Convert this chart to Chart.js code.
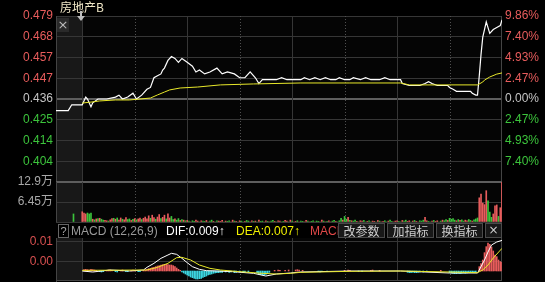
<!DOCTYPE html>
<html><head><meta charset="utf-8">
<script src="https://cdn.jsdelivr.net/npm/chart.js@4.4.1/dist/chart.umd.min.js"></script>
<style>
html,body{margin:0;padding:0;background:#000;overflow:hidden;}
#root{position:relative;width:545px;height:282px;overflow:hidden;background:#000;font-family:'Liberation Sans','Noto Sans CJK SC',sans-serif;}
.pane{position:absolute;left:0;width:545px;}
.t{position:absolute;white-space:nowrap;font-size:12px;line-height:14px;z-index:5;}
.btn{position:absolute;top:223px;height:13px;border:1px solid #4a4a4a;background:#181818;color:#cfcfcf;font-family:'Noto Sans CJK SC',sans-serif;font-size:12px;line-height:13px;text-align:center;z-index:6;}
</style></head><body>
<div id="root">
  <div class="pane" style="top:0;height:194px"><canvas id="cPrice"></canvas></div>
  <div class="pane" style="top:170px;height:64px"><canvas id="cVol"></canvas></div>
  <div class="pane" style="top:222px;height:70px"><canvas id="cMacd"></canvas></div>

  <div class="t" style="left:60px;top:0px;color:#efe6c6;font-family:'Noto Sans CJK SC',sans-serif;" id="title"></div>
  <div class="t" style="left:57px;top:18px;width:12px;height:14px;background:#2a2a2a;color:#bdbdbd;text-align:center;font-size:13px;line-height:14px;font-family:'DejaVu Sans',sans-serif;">×</div>
  <div style="position:absolute;left:80px;top:11px;width:2px;height:5px;background:#bdbdbd;z-index:5"></div>
  <div style="position:absolute;left:77px;top:16px;width:0;height:0;border-left:4px solid transparent;border-right:4px solid transparent;border-top:5px solid #bdbdbd;z-index:5"></div>

  <div class="t" style="left:58px;top:224px;width:9px;height:12px;border:1px solid #666;color:#aaa;text-align:center;font-size:11px;line-height:12px;">?</div>
  <div class="t" style="left:71px;top:224px;color:#9a9a9a;" id="macdName"></div>
  <div class="t" style="left:166px;top:224px;color:#ffffff;" id="difTxt"></div>
  <div class="t" style="left:236px;top:224px;color:#f0f000;" id="deaTxt"></div>
  <div class="t" style="left:310px;top:224px;color:#e04848;">MACD</div>
  <div class="btn" style="left:338px;width:45px;">改参数</div>
  <div class="btn" style="left:387px;width:45px;">加指标</div>
  <div class="btn" style="left:436px;width:45px;">换指标</div>
  <div class="btn" style="left:485px;width:15px;font-family:'DejaVu Sans',sans-serif;">×</div>
</div>
<script>
// ---------------- DATA ----------------
const stockName = '房地产B';
const prevClose = 0.436;
const priceTickLabels = ['0.479','0.468','0.457','0.447','0.436','0.425','0.414','0.404',''];
const pctTickLabels   = ['9.86%','7.40%','4.93%','2.47%','0.00%','2.47%','4.93%','7.40%',''];
const pctLimit = 9.86;
const volTickLabels = ['', '6.45万', '12.9万'];
const macdTickValues = [0.0028, 0.0088];
const macdTickLabels = ['0.00', '0.01'];
const gridMinutes = [0, 30, 60, 90, 120, 150, 180, 210];

// minutes from 09:30 (pre-market -15..0)
const priceMinutes = [-15,-8,-6,0,2,3,5,6,9,10,14,19,21,23,26,29,31,34,37,39,41,43,45,46,47,49,51,53,55,57,60,63,65,67,70,73,77,80,83,87,90,93,96,99,101,103,107,111,114,117,120,125,127,130,133,136,139,142,145,147,150,153,155,159,162,165,167,170,173,176,179,182,183,187,190,193,196,198,200,203,206,209,210,212,214,216,218,220,222,223,225,226,227,228,229,231,232,233,235,237,239,240];
const prices = [0.430,0.430,0.433,0.433,0.437,0.436,0.432,0.434,0.436,0.436,0.436,0.437,0.438,0.436,0.437,0.439,0.436,0.438,0.441,0.442,0.447,0.448,0.449,0.451,0.452,0.456,0.458,0.457,0.455,0.457,0.455,0.453,0.450,0.451,0.449,0.450,0.452,0.449,0.450,0.449,0.447,0.447,0.450,0.447,0.444,0.446,0.446,0.446,0.447,0.446,0.446,0.446,0.447,0.446,0.447,0.446,0.447,0.446,0.446,0.447,0.446,0.446,0.447,0.446,0.447,0.446,0.446,0.446,0.447,0.446,0.446,0.446,0.444,0.443,0.443,0.443,0.444,0.445,0.444,0.443,0.443,0.443,0.442,0.441,0.440,0.440,0.440,0.440,0.440,0.439,0.438,0.438,0.448,0.459,0.468,0.476,0.473,0.470,0.472,0.473,0.474,0.477];

const avgMinutes = [0,5,10,19,27,33,39,43,47,50,56,66,79,98,125,153,182,187,226,229,230,233,237,240];
const avgPrices  = [0.4339,0.4344,0.4350,0.4355,0.4355,0.4360,0.4365,0.4381,0.4396,0.4407,0.4417,0.4422,0.4433,0.4438,0.4443,0.4443,0.4443,0.4433,0.4433,0.4448,0.4458,0.4474,0.4489,0.4495];

// volume in 万 shares
const preVolumeMinute = -5;
const preVolume = 2.6;
const volumes = [
 3.3,2.9,2.6,2.9,2.6,2.9,0.9,0.7,1.0,1.1, 1.2,0.9,0.6,0.5,0.4,0.3,0.7,1.1,1.2,0.9,
 1.3,0.6,1.3,0.9,0.7,1.4,0.8,1.0,0.5,0.9, 1.1,0.7,1.0,1.3,0.8,1.2,1.6,1.0,2.0,1.2,
 2.2,1.4,0.9,1.6,2.4,1.1,1.5,2.2,1.0,2.6, 1.3,1.8,0.8,1.0,0.6,1.1,0.5,0.8,0.6,0.4,
 0.5,0.3,0.0,0.4,0.2,0.6,0.3,0.0,0.4,0.3, 0.2,0.5,0.0,0.3,0.6,0.2,0.0,0.4,0.3,0.2,
 0.5,0.0,0.3,0.2,0.4,0.0,0.6,0.3,0.2,0.0, 0.4,0.3,0.0,0.2,0.5,0.3,0.0,0.4,0.2,0.3,
 0.0,0.6,0.2,0.3,0.0,0.4,0.2,0.0,0.3,0.5, 0.2,0.0,0.4,0.3,0.0,0.2,0.5,0.3,0.0,0.6,
 0.3,0.0,0.2,0.4,0.0,0.3,0.2,0.0,0.5,0.3, 0.0,0.2,0.4,0.0,0.3,0.2,0.0,0.6,0.3,0.0,
 0.2,0.4,0.0,0.3,0.5,0.2,0.0,0.4,1.2,0.6, 1.8,0.9,1.5,0.5,0.4,0.3,0.6,0.2,0.0,0.4,
 0.3,0.5,0.0,0.2,0.4,0.0,0.3,0.2,0.0,0.5, 0.3,0.0,0.2,0.4,0.0,0.3,0.6,0.2,0.0,0.3,
 0.4,0.2,0.0,0.5,0.3,0.6,0.2,0.4,0.0,0.3, 0.5,0.2,0.0,0.4,0.3,0.6,1.5,0.4,0.2,0.0,
 0.3,0.5,0.2,0.4,0.0,0.3,0.6,0.4,0.8,0.5, 1.2,0.9,1.1,0.6,0.4,0.8,0.5,0.7,0.3,0.6,
 0.4,0.8,0.5,0.3,0.7,1.0,1.3,7.8,9.0,6.1, 5.6,10.1,6.8,3.2,1.5,2.6,5.2,5.5,1.8,4.6,
 12.9];
const volDirections =
 'uuudddudud'+'udduuduudu'+'duuduuddud'+'uduuduuuud'+'uuduuduudu'+'udduddudud'+
 'ududduudud'+'duuddudduu'+'ududduudud'+'uddudduudu'+'dudduududd'+'uduudduudu'+
 'duududduud'+'uddudduudu'+'duuddudddu'+'ddududdudu'+'uddudduudu'+'duuddudduu'+
 'uddudduudu'+'duuddduudd'+'uduudduddu'+'ddddududdu'+'udduddduuu'+'uuddduuudu'+'u';

const difMinutes = [0,6,16,27,35,37,41,45,49,51,54,57,60,63,67,71,77,86,98,105,111,119,125,153,182,210,219,226,227,230,232,234,237,240];
const difValues  = [0.0000,-0.0003,0.0003,0.0000,0.0003,0.0011,0.0023,0.0038,0.0048,0.0053,0.0050,0.0038,0.0025,0.0013,0.0005,0.0001,0.0000,-0.0002,-0.0007,-0.0015,-0.0009,-0.0006,-0.0003,0.0000,0.0000,-0.0006,-0.0006,-0.0006,0.0003,0.0033,0.0057,0.0078,0.0087,0.0092];
const deaMinutes = [0,37,43,49,54,57,62,67,73,79,90,103,111,119,125,153,182,210,226,229,232,235,240];
const deaValues  = [0.0002,0.0003,0.0011,0.0023,0.0040,0.0041,0.0033,0.0018,0.0008,0.0003,-0.0002,-0.0007,-0.0009,-0.0007,-0.0004,-0.0001,0.0000,-0.0003,-0.0005,0.0003,0.0018,0.0039,0.0068];

const macdMinutes = [1,2,3,4,5,6,7,8,10,11,12,14,15,16,17,19,20,22,23,25,26,28,29,30,32,33,35,36,
 37,38,39,40,41,42,43,44,45,46,47,48,49,50,51,52,53,54,55,56,
 57,58,59,60,61,62,63,64,65,66,67,68,69,70,71,72,73,74,75,76,77,78,79,80,
 82,84,85,87,88,90,92,93,95,100,101,102,103,104,105,106,107,
 110,112,113,116,118,122,123,124,126,135,136,137,140,150,152,153,158,160,165,166,170,
 186,187,188,189,190,191,192,193,195,197,205,
 210,211,212,213,214,215,216,217,218,219,220,221,222,223,224,225,
 227,228,229,230,231,232,233,234,235,236,237,238,239,240];
const macdHist = [0.0004,0.0005,0.0004,0.0003,0.0005,0.0004,0.0003,0.0002,-0.0002,-0.0003,-0.0002,0.0002,0.0003,0.0003,0.0002,-0.0002,-0.0003,0.0002,0.0003,-0.0002,-0.0002,0.0002,0.0003,0.0002,-0.0002,-0.0002,0.0002,0.0003,
 0.0005,0.0007,0.0008,0.0010,0.0011,0.0013,0.0015,0.0016,0.0018,0.0019,0.0020,0.0020,0.0019,0.0018,0.0018,0.0016,0.0013,0.0009,0.0005,0.0002,
 -0.0003,-0.0006,-0.0009,-0.0012,-0.0015,-0.0018,-0.0020,-0.0022,-0.0024,-0.0024,-0.0023,-0.0022,-0.0019,-0.0017,-0.0015,-0.0012,-0.0010,-0.0009,-0.0007,-0.0006,-0.0005,-0.0005,-0.0004,-0.0004,
 -0.0003,-0.0004,-0.0003,-0.0005,-0.0004,-0.0003,-0.0004,-0.0003,-0.0002,-0.0006,-0.0009,-0.0011,-0.0012,-0.0012,-0.0010,-0.0007,-0.0004,
 0.0002,0.0003,0.0002,0.0002,0.0003,0.0003,0.0004,0.0003,0.0002,-0.0002,-0.0003,-0.0002,-0.0002,0.0002,0.0003,0.0002,-0.0002,-0.0002,0.0002,0.0003,0.0002,
 -0.0004,-0.0005,-0.0005,-0.0004,-0.0005,-0.0005,-0.0004,-0.0003,-0.0003,-0.0002,0.0002,
 -0.0005,-0.0006,-0.0007,-0.0008,-0.0008,-0.0007,-0.0008,-0.0007,-0.0006,-0.0007,-0.0006,-0.0005,-0.0005,-0.0004,-0.0004,-0.0003,
 0.0013,0.0022,0.0033,0.0055,0.0073,0.0084,0.0080,0.0072,0.0060,0.0048,0.0043,0.0033,0.0028,0.0026];

// ---------------- STYLE ----------------
const RED = '#e85c5c', GREEN = '#3cc43c', GRAY = '#c4c4c4';
const FONT = "'Liberation Sans','Noto Sans CJK SC',sans-serif";
Chart.defaults.font.family = FONT;
Chart.defaults.font.size = 12;
Chart.defaults.animation = false;
Chart.defaults.devicePixelRatio = 1;

document.getElementById('title').textContent = stockName;
document.getElementById('macdName').textContent = 'MACD (12,26,9)';
document.getElementById('difTxt').textContent = 'DIF:' + difValues[difValues.length-1].toFixed(3) + '↑';
document.getElementById('deaTxt').textContent = 'DEA:' + deaValues[deaValues.length-1].toFixed(3) + '↑';

const sessionStart = -15, sessionEnd = 240;
const pct = p => (p / prevClose - 1) * 100;

const framePlugin = {
  id: 'frame',
  beforeDraw(chart) {
    const {ctx, chartArea: a, scales: {x}} = chart;
    ctx.save();
    ctx.fillStyle = '#050505';
    ctx.fillRect(a.left, a.top, a.right - a.left, a.bottom - a.top);
    const x0 = x.getPixelForValue(sessionStart), x1 = x.getPixelForValue(0);
    ctx.fillStyle = '#181818';
    ctx.fillRect(x0, a.top, x1 - x0, a.bottom - a.top);
    ctx.restore();
  },
  beforeDatasetsDraw(chart) {
    const {ctx, chartArea: a, scales: {x}} = chart;
    ctx.save();
    ctx.lineWidth = 1;
    for (const m of gridMinutes) {
      const px = Math.round(x.getPixelForValue(m)) + 0.5;
      const solid = m % 60 === 0;
      ctx.strokeStyle = solid ? '#363636' : '#505050';
      ctx.setLineDash(solid ? [] : [1, 2]);
      ctx.beginPath(); ctx.moveTo(px, a.top); ctx.lineTo(px, a.bottom); ctx.stroke();
    }
    ctx.setLineDash([]);
    ctx.strokeStyle = '#444';
    for (const m of [sessionStart, sessionEnd]) {
      const px = Math.round(x.getPixelForValue(m)) + (m === sessionStart ? 0.5 : -0.5);
      ctx.beginPath(); ctx.moveTo(px, a.top); ctx.lineTo(px, a.bottom); ctx.stroke();
    }
    ctx.restore();
  }
};

const xScale = {type: 'linear', min: sessionStart, max: sessionEnd, display: false, offset: false};
const fitLeft = s => { s.width = 56; };
const fitRight = s => { s.width = 43; };
const baseOpts = {
  responsive: true, maintainAspectRatio: false,
  plugins: {legend: {display: false}, tooltip: {enabled: false}},
  events: []
};

// ---------------- PRICE CHART ----------------
const priceTicks = s => { s.ticks = [-4,-3,-2,-1,0,1,2,3,4].map(k => ({value: k * pctLimit / 4})); };
const pctColor = c => c.tick.value > 1e-6 ? RED : (c.tick.value < -1e-6 ? GREEN : GRAY);
new Chart(document.getElementById('cPrice'), {
  type: 'line',
  data: {datasets: [
    {data: avgMinutes.map((m, i) => ({x: m, y: pct(avgPrices[i])})), borderColor: '#e8e82a', borderWidth: 1, pointRadius: 0, tension: 0, yAxisID: 'y'},
    {data: priceMinutes.map((m, i) => ({x: m, y: pct(prices[i])})), borderColor: '#ffffff', borderWidth: 1.2, pointRadius: 0, tension: 0, yAxisID: 'y'}
  ]},
  options: Object.assign({}, baseOpts, {
    layout: {padding: {top: 16, bottom: 12, left: 0, right: 0}},
    scales: {
      x: xScale,
      y: {position: 'left', min: -pctLimit, max: pctLimit, afterFit: fitLeft, afterBuildTicks: priceTicks,
          border: {display: false},
          grid: {drawTicks: false,
                 color: c => (Math.abs(c.tick.value) < 1e-6 || c.tick.value < -pctLimit + 0.01) ? '#5e5e5e' : '#363636',
                 lineWidth: c => (Math.abs(c.tick.value) < 1e-6 || c.tick.value < -pctLimit + 0.01) ? 2 : 1},
          ticks: {padding: 3, color: pctColor, callback: (v, i) => priceTickLabels[8 - i]}},
      yR: {position: 'right', min: -pctLimit, max: pctLimit, afterFit: fitRight, afterBuildTicks: priceTicks,
           border: {display: false}, grid: {drawOnChartArea: false, drawTicks: false},
           ticks: {padding: 3, color: pctColor, callback: (v, i) => pctTickLabels[8 - i]}}
    }
  }),
  plugins: [framePlugin]
});

// ---------------- VOLUME CHART ----------------
const volMax = Math.max(...volumes, preVolume);
const volData = [{x: preVolumeMinute, y: preVolume}].concat(volumes.map((v, i) => ({x: i, y: v})));
const volColors = ['d'].concat(volDirections.split('')).map(d => d === 'u' ? RED : GREEN);
new Chart(document.getElementById('cVol'), {
  type: 'bar',
  data: {datasets: [{data: volData, backgroundColor: volColors, barThickness: 1, borderWidth: 0}]},
  options: Object.assign({}, baseOpts, {
    layout: {padding: {top: 12, bottom: 12, left: 0, right: 43}},
    scales: {
      x: xScale,
      y: {position: 'left', min: 0, max: volMax, afterFit: fitLeft,
          afterBuildTicks: s => { s.ticks = [0, volMax / 2, volMax].map(v => ({value: v})); },
          border: {display: false},
          grid: {drawTicks: false, color: c => c.index === 2 ? '#5e5e5e' : '#363636', lineWidth: c => c.index === 2 ? 2 : 1},
          ticks: {padding: 3, color: '#a8a8a8', callback: (v, i) => volTickLabels[i]}}
    }
  }),
  plugins: [framePlugin]
});

// ---------------- MACD CHART ----------------
new Chart(document.getElementById('cMacd'), {
  type: 'bar',
  data: {datasets: [
    {type: 'line', data: deaMinutes.map((m, i) => ({x: m, y: deaValues[i]})), borderColor: '#e8e82a', borderWidth: 1, pointRadius: 0, tension: 0},
    {type: 'line', data: difMinutes.map((m, i) => ({x: m, y: difValues[i]})), borderColor: '#ffffff', borderWidth: 1, pointRadius: 0, tension: 0},
    {type: 'bar', data: macdMinutes.map((m, i) => ({x: m, y: macdHist[i]})),
     backgroundColor: macdHist.map(v => v >= 0 ? RED : '#3cd6e0'), barThickness: 1, borderWidth: 0}
  ]},
  options: Object.assign({}, baseOpts, {
    layout: {padding: {top: 16, bottom: 11, left: 0, right: 43}},
    scales: {
      x: xScale,
      y: {position: 'left', min: -0.0030, max: 0.0099, afterFit: fitLeft,
          afterBuildTicks: s => { s.ticks = macdTickValues.map(v => ({value: v})); },
          border: {display: true, color: '#444'},
          grid: {drawTicks: false, color: '#363636'},
          ticks: {padding: 3, color: '#d85050', callback: (v, i) => macdTickLabels[i]}}
    }
  }),
  plugins: [framePlugin, {
    id: 'bottomBorder',
    afterDraw(chart) {
      const {ctx, chartArea: a} = chart;
      ctx.save(); ctx.strokeStyle = '#444'; ctx.lineWidth = 1;
      ctx.beginPath(); ctx.moveTo(a.left, Math.round(a.bottom) - 0.5); ctx.lineTo(a.right, Math.round(a.bottom) - 0.5); ctx.stroke();
      ctx.restore();
    }
  }]
});
</script>
</body></html>
